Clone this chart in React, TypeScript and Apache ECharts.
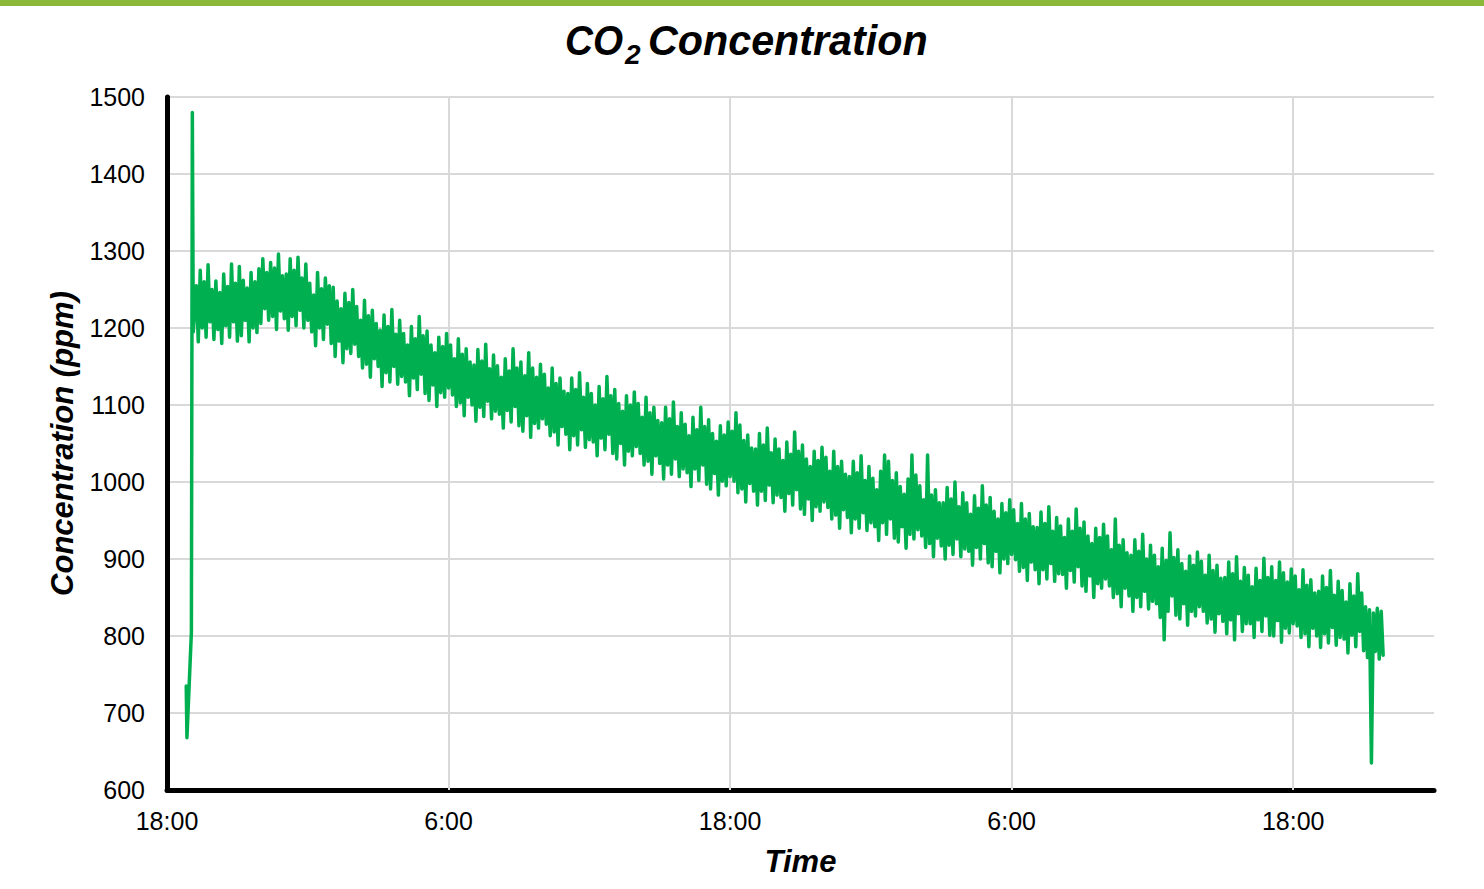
import React, { useEffect, useRef } from 'react';
import * as echarts from 'echarts';

// Hours after 18:00 on day 1 for the first start-up readings (irregular spacing)
const startupHours = [0.82, 0.85, 1.04, 1.08, 1.12];
const startupValues = [735, 668, 805, 1480, 1195];

// Logged readings in 10-minute windows from 1.25 h after 18:00:
// the window's high reading, then its low reading 5 minutes later
const loggedStartHour = 1.25;
const loggedStepHours = 1 / 6;
const loggedHighs = [
  1255, 1275, 1260, 1282, 1250,
  1261, 1246, 1270, 1254, 1283, 1258,
  1280, 1262, 1252, 1272, 1260, 1277,
  1290, 1272, 1285, 1278, 1296, 1268,
  1270, 1290, 1275, 1292, 1265, 1283,
  1258, 1243, 1272, 1251, 1265, 1255,
  1253, 1235, 1225, 1245, 1233, 1250,
  1228, 1210, 1236, 1216, 1223, 1206,
  1197, 1217, 1202, 1224, 1192, 1210,
  1193, 1178, 1202, 1186, 1215, 1190,
  1196, 1178, 1168, 1188, 1176, 1193,
  1178, 1160, 1186, 1166, 1173, 1156,
  1152, 1172, 1157, 1179, 1147, 1165,
  1151, 1136, 1160, 1144, 1173, 1148,
  1156, 1138, 1168, 1148, 1136, 1153,
  1140, 1122, 1148, 1128, 1135, 1118,
  1115, 1135, 1120, 1142, 1110, 1128,
  1115, 1100, 1124, 1108, 1137, 1112,
  1120, 1102, 1092, 1112, 1100, 1117,
  1102, 1084, 1110, 1090, 1097, 1080,
  1077, 1097, 1082, 1104, 1072, 1090,
  1075, 1060, 1084, 1068, 1097, 1072,
  1081, 1063, 1053, 1073, 1061, 1078,
  1066, 1090, 1074, 1054, 1061, 1044,
  1043, 1063, 1048, 1070, 1038, 1056,
  1043, 1028, 1052, 1036, 1065, 1040,
  1048, 1030, 1020, 1040, 1028, 1045,
  1032, 1014, 1040, 1020, 1027, 1010,
  1007, 1027, 1012, 1034, 1002, 1020,
  1005, 990, 1014, 1035, 1027, 1002,
  1012, 994, 984, 1004, 1035, 1009,
  995, 977, 1035, 983, 990, 973,
  973, 993, 978, 1000, 968, 986,
  973, 958, 982, 966, 995, 970,
  980, 962, 952, 972, 960, 977,
  964, 946, 972, 952, 959, 942,
  941, 961, 946, 968, 936, 954,
  943, 928, 952, 936, 965, 940,
  948, 930, 920, 940, 928, 945,
  930, 912, 952, 918, 925, 908,
  905, 925, 910, 932, 900, 918,
  905, 890, 914, 898, 934, 902,
  912, 894, 884, 904, 892, 909,
  897, 879, 905, 885, 892, 875,
  876, 896, 881, 903, 871, 889,
  879, 864, 888, 872, 901, 876,
  890, 872, 896, 882, 870, 887,
  878, 860, 886, 866, 873, 856,
  858, 878, 863, 885, 853, 871,
  859, 844, 868, 852, 881, 856,
  838, 834, 830, 836, 832,
];
const loggedLows = [
  1182, 1200, 1188, 1208, 1185,
  1198, 1180, 1203, 1188, 1208, 1183,
  1190, 1210, 1182, 1200, 1194, 1206,
  1225, 1210, 1215, 1198, 1222, 1212,
  1197, 1215, 1203, 1223, 1200, 1210,
  1195, 1177, 1200, 1185, 1205, 1180,
  1163, 1183, 1155, 1173, 1167, 1179,
  1163, 1148, 1153, 1136, 1160, 1150,
  1124, 1142, 1130, 1150, 1127, 1137,
  1130, 1112, 1135, 1120, 1140, 1115,
  1106, 1126, 1098, 1116, 1110, 1122,
  1113, 1098, 1103, 1086, 1110, 1100,
  1079, 1097, 1085, 1105, 1082, 1092,
  1088, 1070, 1093, 1078, 1098, 1073,
  1066, 1086, 1058, 1076, 1070, 1082,
  1075, 1060, 1065, 1048, 1072, 1062,
  1042, 1060, 1048, 1068, 1045, 1055,
  1052, 1034, 1057, 1042, 1062, 1037,
  1030, 1050, 1022, 1040, 1034, 1046,
  1037, 1022, 1027, 1010, 1034, 1024,
  1004, 1022, 1010, 1030, 1007, 1017,
  1012, 994, 1017, 1002, 1022, 997,
  991, 1011, 983, 1001, 995, 1007,
  1001, 986, 991, 974, 998, 988,
  970, 988, 976, 996, 973, 983,
  980, 962, 985, 970, 990, 965,
  958, 978, 950, 968, 962, 974,
  967, 952, 957, 940, 964, 954,
  934, 952, 940, 960, 937, 947,
  942, 924, 947, 932, 952, 927,
  922, 942, 914, 932, 926, 938,
  930, 915, 920, 903, 927, 917,
  900, 918, 906, 926, 903, 913,
  910, 892, 915, 900, 920, 895,
  890, 910, 882, 900, 894, 906,
  899, 884, 889, 872, 896, 886,
  868, 886, 874, 894, 871, 881,
  880, 862, 885, 870, 890, 865,
  858, 878, 850, 868, 862, 874,
  865, 850, 855, 838, 862, 852,
  832, 850, 838, 858, 835, 845,
  842, 824, 795, 832, 852, 827,
  822, 842, 814, 832, 826, 838,
  832, 817, 822, 805, 829, 819,
  803, 821, 795, 829, 806, 816,
  816, 798, 821, 806, 826, 801,
  800, 820, 792, 810, 804, 816,
  813, 798, 803, 786, 810, 800,
  785, 803, 791, 811, 788, 798,
  796, 778, 801, 786, 806, 781,
  772, 635, 780, 770, 775,
];

const xTickHours = [0, 12, 24, 36, 48];
const xTickLabels = ['18:00', '6:00', '18:00', '6:00', '18:00'];
const xGridHours = [12, 24, 36, 48];
const xMaxHours = 54;
const yMin = 600;
const yMax = 1500;
const yStep = 100;

const FONT = '"Liberation Sans", Arial, sans-serif';

export default function App() {
  const ref = useRef<HTMLDivElement>(null);

  useEffect(() => {
    if (!ref.current) return;
    const chart = echarts.init(ref.current, undefined, { renderer: 'svg' });

    const points: [number, number][] = startupHours.map((h, i) => [h, startupValues[i]] as [number, number]);
    loggedHighs.forEach((hi, i) => {
      const t = loggedStartHour + i * loggedStepHours;
      points.push([t, hi]);
      points.push([t + loggedStepHours / 2, loggedLows[i]]);
    });

    chart.setOption({
      animation: false,
      backgroundColor: '#ffffff',
      grid: { left: 167, right: 50, top: 97, bottom: 99, containLabel: false },
      graphic: [
        { type: 'rect', left: 0, top: 0, shape: { x: 0, y: 0, width: 1484, height: 6 }, style: { fill: '#8cb83a' } },
        {
          type: 'text', x: 565, y: 40, scaleX: 0.9,
          style: { text: 'CO', font: `italic bold 43px ${FONT}`, fill: '#000', align: 'left', verticalAlign: 'middle' },
        },
        {
          type: 'text', x: 625, y: 54,
          style: { text: '2', font: `italic bold 28px ${FONT}`, fill: '#000', align: 'left', verticalAlign: 'middle' },
        },
        {
          type: 'text', x: 648, y: 40, scaleX: 0.96,
          style: { text: 'Concentration', font: `italic bold 43px ${FONT}`, fill: '#000', align: 'left', verticalAlign: 'middle' },
        },
      ],
      xAxis: {
        type: 'value',
        min: 0,
        max: xMaxHours,
        interval: 12,
        name: 'Time',
        nameLocation: 'middle',
        nameGap: 56,
        nameTextStyle: { fontSize: 31, fontWeight: 'bold', fontStyle: 'italic', fontFamily: FONT, color: '#000' },
        axisLine: { show: true, onZero: false, lineStyle: { color: '#000', width: 5 } },
        axisTick: { show: false },
        axisLabel: {
          fontSize: 25,
          fontFamily: FONT,
          color: '#000',
          margin: 18,
          showMaxLabel: false,
          formatter: (v: number) => {
            const i = xTickHours.indexOf(v);
            return i >= 0 ? xTickLabels[i] : '';
          },
        },
        splitLine: { show: false },
      },
      yAxis: {
        type: 'value',
        min: yMin,
        max: yMax,
        interval: yStep,
        name: 'Concentration (ppm)',
        nameLocation: 'middle',
        nameGap: 88,
        nameTextStyle: { fontSize: 31, fontWeight: 'bold', fontStyle: 'italic', fontFamily: FONT, color: '#000' },
        axisLine: { show: true, onZero: false, lineStyle: { color: '#000', width: 5 } },
        axisTick: { show: false },
        axisLabel: { fontSize: 25, fontFamily: FONT, color: '#000', margin: 22, formatter: (v: number) => String(v) },
        splitLine: { show: true, lineStyle: { color: '#d9d9d9', width: 2 } },
      },
      series: [
        {
          type: 'line',
          data: points,
          showSymbol: false,
          symbol: 'none',
          lineStyle: { color: '#00b050', width: 3.5, join: 'round', cap: 'round' },
          itemStyle: { color: '#00b050' },
          z: 3,
          markLine: {
            silent: true,
            symbol: 'none',
            label: { show: false },
            lineStyle: { color: '#d9d9d9', width: 2, type: 'solid' },
            data: xGridHours.map((h) => ({ xAxis: h })),
            z: 1,
          },
        },
      ],
    });

    return () => chart.dispose();
  }, []);

  return <div ref={ref} style={{ position: 'absolute', left: 0, top: 0, width: 1484, height: 889 }} />;
}
